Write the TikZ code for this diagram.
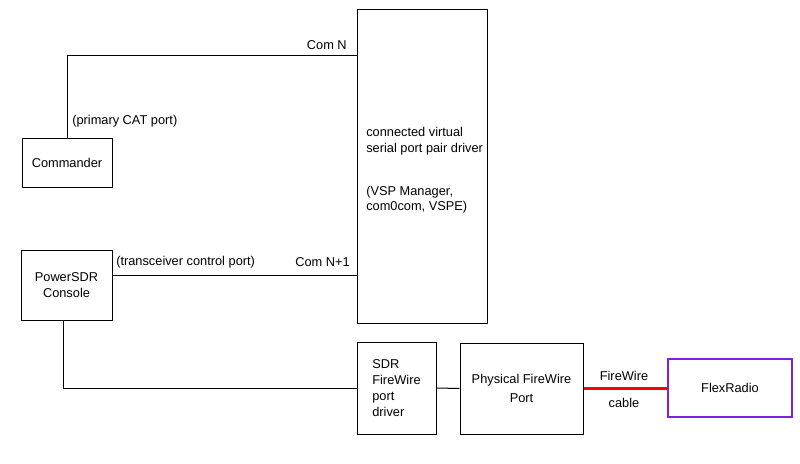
\documentclass[tikz,border=0pt]{standalone}
\usepackage{fontspec}
\setmainfont{Liberation Sans}
\usepackage{tikz}

\tikzset{
    box/.style = {draw, line width=0.75pt, inner sep=0pt, align=center},
    lbl/.style = {inner sep=0pt},
    wire/.style = {line width=0.75pt},
}

\begin{document}
\begin{tikzpicture}[x=0.75pt, y=-0.75pt, font=\fontsize{9.6}{11.5}\selectfont]
        \useasboundingbox (0,0) rectangle (800,464);

        % boxes
        \node[box, minimum width=67.5pt, minimum height=36.75pt] (cmdr) at (67, 162.5) {Commander};
        \node[box, minimum width=68.25pt, minimum height=52.5pt] (psdr) at (66.5, 285) {PowerSDR\\Console};
        \node[box, minimum width=97.5pt, minimum height=235.5pt] (vsp) at (422, 166) {};
        \node[box, align=left, minimum width=59.25pt, minimum height=69pt,
              font=\fontsize{9.6}{12}\selectfont] (fwdrv) at (396.5, 388) {SDR\\FireWire\\port\\driver};
        \node[box, minimum width=92.25pt, minimum height=68.25pt,
              font=\fontsize{9.6}{14}\selectfont] (phys) at (521.5, 388.5) {Physical FireWire\\Port};
        \node[box, draw={rgb,255:red,128;green,32;blue,224}, line width=1.5pt,
              minimum width=93pt, minimum height=43.5pt] (flex) at (730, 388) {FlexRadio};

        % text of the driver box
        \node[lbl, align=left, anchor=west, font=\fontsize{9.6}{11.6}\selectfont] (vsptxt) at (366, 170.5)
            {connected virtual\\serial port pair driver\\[20.5pt](VSP Manager,\\com0com, VSPE)};

        % connections
        \coordinate (comn) at (0, 55);
        \coordinate (comn1) at (0, 275);
        \coordinate (fwline) at (0, 388);
        \draw[wire] (cmdr.north) |- (vsp.west |- comn);
        \draw[wire] (psdr.east |- comn1) -- (vsp.west |- comn1);
        \draw[wire] ([xshift=-1.9pt]psdr.south) |- (fwdrv.west |- fwline);
        \draw[wire] (fwdrv.east) -- (phys.west);
        \draw[red, line width=2.25pt] (phys.east |- flex.west) -- (flex.west);

        % labels
        \node[lbl, anchor=west] (catlbl) at (72, 121) {(primary CAT port)};
        \node[lbl, anchor=east] (comnlbl) at (347, 45) {Com N};
        \node[lbl, anchor=west] (tcvlbl) at (116, 262) {(transceiver control port)};
        \node[lbl, anchor=east] (comn1lbl) at (350, 262) {Com N+1};
        \node[lbl] (fwlbl) at (624, 376) {FireWire};
        \node[lbl] (cablbl) at (624, 403) {cable};
    \end{tikzpicture}
\end{document}
